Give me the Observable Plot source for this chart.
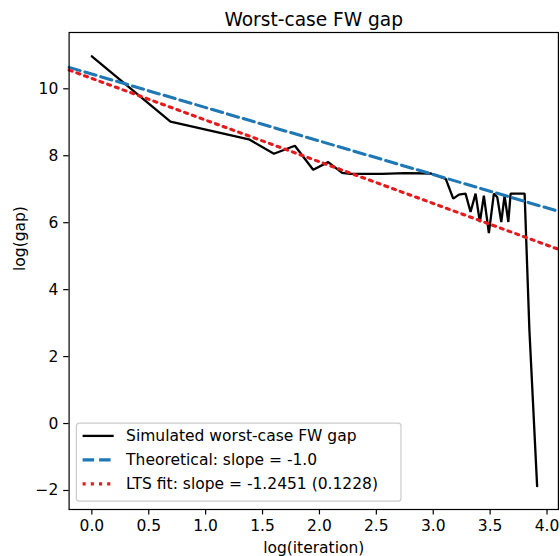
<!DOCTYPE html>
<html>
<head>
<meta charset="utf-8">
<script src="https://cdn.jsdelivr.net/npm/d3@7"></script>
<script src="https://cdn.jsdelivr.net/npm/@observablehq/plot@0.6"></script>
<style>
  html, body { margin: 0; padding: 0; background: white; }
</style>
</head>
<body>
<div id="chart"></div>
<script>
// ---- data ----
const logIteration = [0, 0.691, 1.38, 1.60, 1.784, 1.945, 2.077, 2.20, 2.27, 2.55, 2.75, 2.98, 3.11, 3.176, 3.226, 3.284, 3.328, 3.372, 3.410, 3.445, 3.489, 3.533, 3.563, 3.598, 3.627, 3.660, 3.680, 3.803, 3.845, 3.913];
const logGap = [10.97, 9.02, 8.49, 8.06, 8.30, 7.58, 7.81, 7.49, 7.46, 7.46, 7.48, 7.47, 7.31, 6.72, 6.84, 6.87, 6.32, 6.87, 6.02, 6.81, 5.69, 6.87, 6.76, 6.02, 6.81, 6.02, 6.87, 6.87, 2.80, -1.87];

const theoSlope = -1.0, theoIntercept = 10.44;
const ltsSlope = -1.2451, ltsIntercept = 10.31;

const xTicks = [0, 0.5, 1, 1.5, 2, 2.5, 3, 3.5, 4];
const yTicks = [-2, 0, 2, 4, 6, 8, 10];
const xDomain = [-0.2, 4.1];
const yDomain = [-2.568, 11.682];

const legendLabels = [
  "Simulated worst-case FW gap",
  "Theoretical: slope = -1.0",
  "LTS fit: slope = -1.2451 (0.1228)"
];
const titleText = "Worst-case FW gap";
const xLabel = "log(iteration)";
const yLabel = "log(gap)";

// ---- build ----
const W = 560, H = 556;
const mLeft = 68.6, mRight = 2.1, mTop = 32, mBottom = 47;
const fs = 15.5;
const colBlack = "black", colBlue = "#1f77b4", colRed = "#e41a1c";

const sim = logIteration.map((x, i) => ({x, y: logGap[i]}));
const theo = xDomain.map(x => ({x, y: theoIntercept + theoSlope * x}));
const lts = xDomain.map(x => ({x, y: ltsIntercept + ltsSlope * x}));

const chart = Plot.plot({
  width: W,
  height: H,
  marginLeft: mLeft,
  marginRight: mRight,
  marginTop: mTop,
  marginBottom: mBottom,
  style: {fontFamily: "DejaVu Sans", fontSize: fs + "px", background: "white", color: "black"},
  x: {domain: xDomain},
  y: {domain: yDomain},
  marks: [
    Plot.line(sim, {x: "x", y: "y", stroke: colBlack, strokeWidth: 2.3, strokeLinejoin: "miter"}),
    Plot.line(theo, {x: "x", y: "y", stroke: colBlue, strokeWidth: 3.1, strokeDasharray: "11.5,5"}),
    Plot.line(lts, {x: "x", y: "y", stroke: colRed, strokeWidth: 3.1, strokeDasharray: "3.1,5.1"}),
    Plot.frame({stroke: "black", strokeWidth: 1.2}),
    Plot.axisX({ticks: xTicks, tickFormat: d3.format(".1f"), tickSize: 5.4, tickPadding: 5.4, strokeWidth: 1.2, label: null, fontSize: fs}),
    Plot.axisY({ticks: yTicks, tickFormat: d3.format("d"), tickSize: 5.4, tickPadding: 5.4, strokeWidth: 1.2, label: null, fontSize: fs}),
    Plot.text([titleText], {frameAnchor: "top", lineAnchor: "bottom", dy: -7, fontSize: 18.6, fill: "black"}),
    Plot.text([xLabel], {frameAnchor: "bottom", lineAnchor: "bottom", dy: 43, fontSize: fs, fill: "black"}),
    Plot.text([yLabel], {frameAnchor: "left", lineAnchor: "bottom", rotate: -90, dx: -44.6, fontSize: fs, fill: "black"})
  ]
});
document.getElementById("chart").appendChild(chart);

// ---- legend (lower left, matplotlib style) ----
const svg = d3.select(chart);
const lx = mLeft + 7.8, lBottom = H - mBottom - 7.8;
const rowH = 24, lh = rowH * legendLabels.length + 6;
const ly = lBottom - lh;
const lg = svg.append("g")
  .attr("font-family", "DejaVu Sans")
  .attr("font-size", fs)
  .attr("text-anchor", "start");
lg.append("rect")
  .attr("x", lx).attr("y", ly).attr("width", 324.6).attr("height", lh)
  .attr("rx", 3).attr("fill", "white").attr("fill-opacity", 0.8)
  .attr("stroke", "#cccccc").attr("stroke-width", 1.2);
const styles = [
  {stroke: colBlack, w: 2.3, dash: null},
  {stroke: colBlue, w: 3.1, dash: "11.5,5"},
  {stroke: colRed, w: 3.1, dash: "3.1,5.1"}
];
legendLabels.forEach((lab, i) => {
  const cy = ly + 12.7 + i * rowH;
  const ln = lg.append("line")
    .attr("x1", lx + 6.2).attr("x2", lx + 6.2 + 31.1)
    .attr("y1", cy).attr("y2", cy)
    .attr("stroke", styles[i].stroke).attr("stroke-width", styles[i].w);
  if (styles[i].dash) ln.attr("stroke-dasharray", styles[i].dash);
  lg.append("text")
    .attr("x", lx + 6.2 + 31.1 + 12.4).attr("y", cy).attr("dy", "0.35em")
    .attr("text-anchor", "start")
    .attr("fill", "black").text(lab);
});
</script>
</body>
</html>
